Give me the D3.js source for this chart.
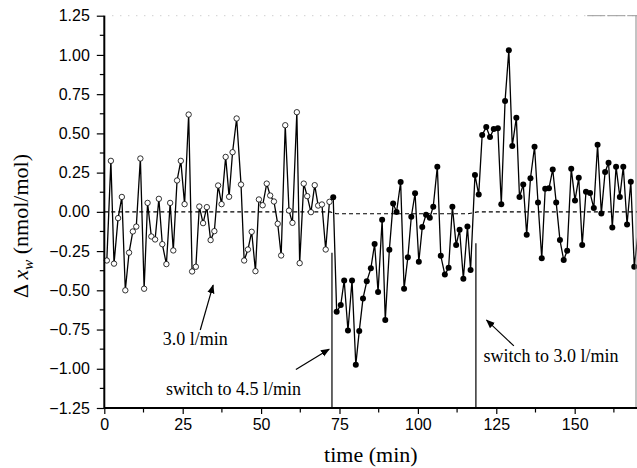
<!DOCTYPE html>
<html>
<head>
<meta charset="utf-8">
<script src="https://cdn.jsdelivr.net/npm/d3@7"></script>
<style>
  body { margin: 0; background: #fff; }
  svg { display: block; }
</style>
</head>
<body>
<svg id="chart" width="637" height="468"></svg>
<script>
// 3.0 l/min section (open circles)
const openTime = [0.8,2.1,3.1,4.4,5.6,6.7,7.9,9.1,10.2,11.5,12.7,13.8,15.0,16.2,17.4,18.5,19.8,21.0,22.0,23.2,
  24.4,25.6,26.9,28.0,29.2,30.3,31.5,32.7,33.9,35.1,36.3,37.4,38.7,39.8,40.9,42.2,43.6,44.6,45.8,47.0,
  48.2,49.3,50.5,51.8,52.9,54.1,55.3,56.4,57.7,58.9,60.0,61.4,62.3,63.6,64.7,65.9,67.1,68.2,69.4,70.6,71.8];
const openVal = [-0.31,0.325,-0.33,-0.04,0.095,-0.50,-0.26,-0.125,-0.094,0.34,-0.49,0.057,-0.157,-0.176,0.083,-0.206,-0.333,0.057,-0.246,0.20,
  0.325,0.049,0.62,-0.38,-0.35,0.034,-0.072,0.03,-0.18,-0.123,0.168,0.049,0.35,0.096,0.38,0.595,0.174,-0.31,-0.24,-0.127,
  -0.378,0.079,0.042,0.18,0.104,0.066,-0.076,-0.278,0.552,0.008,-0.07,0.635,-0.327,0.18,0.10,-0.002,0.17,0.04,0.047,-0.24,0.064];

// after switching (filled circles)
const fillTime = [73.0,74.1,75.4,76.5,77.7,79.0,80.2,81.3,82.5,83.7,85.0,86.2,87.3,88.6,89.6,90.9,92.1,93.2,94.5,95.6,
  96.8,97.9,99.1,100.3,101.4,102.6,103.8,104.9,106.2,107.3,108.6,109.8,111.0,112.2,113.3,114.5,115.8,116.8,118.2,119.4,
  120.5,121.8,123.0,124.2,125.5,126.6,127.8,129.0,130.1,131.4,132.4,133.6,134.7,135.9,137.2,138.3,139.5,140.6,141.8,143.0,
  144.1,145.3,146.5,147.6,148.9,150.1,151.3,152.4,153.6,154.9,156.1,157.3,158.5,159.7,160.8,162.0,163.2,164.4,165.5,166.7,
  167.9,169.0,171.0];
const fillVal = [0.093,-0.637,-0.594,-0.437,-0.756,-0.437,-0.975,-0.76,-0.552,-0.443,-0.36,-0.205,-0.51,-0.05,-0.69,-0.242,0.054,-0.001,0.19,-0.49,
  -0.29,-0.031,0.118,-0.318,-0.097,-0.018,-0.038,0.033,0.288,-0.28,-0.40,-0.357,0.033,-0.212,-0.114,-0.426,-0.094,-0.37,0.235,0.11,
  0.49,0.54,0.477,0.528,0.532,0.048,0.707,1.03,0.42,0.60,0.095,0.175,-0.146,0.214,0.415,0.06,-0.295,0.147,0.15,0.27,
  0.06,-0.18,-0.307,-0.248,0.275,0.073,0.217,-0.212,0.128,0.12,0.024,0.428,-0.01,0.254,0.313,-0.1,0.288,0.094,0.288,-0.08,
  0.192,-0.35,0.0];

// dashed baseline
const baseTime = [0, 72, 74, 116, 119, 170];
const baseVal = [0, 0, -0.012, -0.012, 0, 0];

// flow switches
const switchTime = [72.6, 118.5];
const switchTop = [-0.26, -0.2];

const xTicks = [0, 25, 50, 75, 100, 125, 150];
const yTicks = [-1.25, -1.00, -0.75, -0.50, -0.25, 0.00, 0.25, 0.50, 0.75, 1.00, 1.25];

const svg = d3.select("#chart");
const x = d3.scaleLinear().domain([0, 170]).range([104.3, 637.4]);
const y = d3.scaleLinear().domain([-1.25, 1.25]).range([408, 15.7]);

const openPts = openTime.map((t, i) => ({ t, v: openVal[i] }));
const fillPts = fillTime.map((t, i) => ({ t, v: fillVal[i] }));
const basePts = baseTime.map((t, i) => ({ t, v: baseVal[i] }));

const line = d3.line().x(d => x(d.t)).y(d => y(d.v));

// dashed zero line
svg.append("path")
  .datum(basePts)
  .attr("fill", "none")
  .attr("stroke", "#000")
  .attr("stroke-width", 1.1)
  .attr("stroke-dasharray", "4,3")
  .attr("d", line);

// switch markers
svg.selectAll(".switch")
  .data(switchTime)
  .enter()
  .append("line")
  .attr("class", "switch")
  .attr("x1", d => x(d)).attr("x2", d => x(d))
  .attr("y1", (d, i) => y(switchTop[i])).attr("y2", y(-1.25))
  .attr("stroke", "#000")
  .attr("stroke-width", 1.2);

// data line
svg.append("path")
  .datum(openPts.concat(fillPts))
  .attr("fill", "none")
  .attr("stroke", "#000")
  .attr("stroke-width", 1.3)
  .attr("d", line);

svg.selectAll(".open")
  .data(openPts)
  .enter()
  .append("circle")
  .attr("class", "open")
  .attr("cx", d => x(d.t))
  .attr("cy", d => y(d.v))
  .attr("r", 2.7)
  .attr("fill", "#fff")
  .attr("stroke", "#000")
  .attr("stroke-width", 0.8);

svg.selectAll(".filled")
  .data(fillPts)
  .enter()
  .append("circle")
  .attr("class", "filled")
  .attr("cx", d => x(d.t))
  .attr("cy", d => y(d.v))
  .attr("r", 3)
  .attr("fill", "#000");

// frame: faint top and right
svg.append("line")
  .attr("x1", x(0)).attr("x2", x(170))
  .attr("y1", y(1.25)).attr("y2", y(1.25))
  .attr("stroke", "#bbb")
  .attr("stroke-width", 1)
  .attr("stroke-dasharray", "1,7");
svg.append("line")
  .attr("x1", x(154)).attr("x2", x(170))
  .attr("y1", y(1.25)).attr("y2", y(1.25))
  .attr("stroke", "#999")
  .attr("stroke-width", 1)
  .attr("stroke-dasharray", "18,2");
svg.append("line")
  .attr("x1", 636).attr("x2", 636)
  .attr("y1", y(1.25)).attr("y2", y(-1.25))
  .attr("stroke", "#888")
  .attr("stroke-width", 1);

// axes
const tickFont = "'Liberation Sans', Arial, sans-serif";

const yAxis = svg.append("g")
  .attr("transform", `translate(${x(0)},0)`)
  .call(d3.axisLeft(y).tickValues(yTicks).tickFormat(d3.format(".2f")).tickSize(7.5).tickPadding(7));
yAxis.append("g").selectAll("line")
  .data(d3.range(-1.125, 1.25, 0.25))
  .enter().append("line")
  .attr("x1", -4.5).attr("x2", 0)
  .attr("y1", d => y(d)).attr("y2", d => y(d))
  .attr("stroke", "#000").attr("stroke-width", 1.2);

const xAxis = svg.append("g")
  .attr("transform", `translate(0,${y(-1.25)})`)
  .call(d3.axisBottom(x).tickValues(xTicks).tickFormat(d3.format("d")).tickSize(6).tickPadding(5));
xAxis.append("g").selectAll("line")
  .data(d3.range(12.5, 170, 25))
  .enter().append("line")
  .attr("x1", d => x(d)).attr("x2", d => x(d))
  .attr("y1", 0).attr("y2", 4.5)
  .attr("stroke", "#000").attr("stroke-width", 1.2);

[yAxis, xAxis].forEach(g => {
  g.select(".domain").attr("stroke", "#000").attr("stroke-width", 2);
  g.selectAll(".tick line").attr("stroke", "#000").attr("stroke-width", 1.2);
  g.selectAll(".tick text")
    .attr("fill", "#000")
    .style("font-family", tickFont)
    .style("font-size", "16px");
});
xAxis.select(".domain").attr("d", `M${x(0)},0H${x(170)}`);
yAxis.select(".domain").attr("d", `M0,${y(-1.25)}V${y(1.25)}`);

// axis titles
const serif = "'Liberation Serif', 'Times New Roman', serif";

svg.append("text")
  .attr("x", x(85))
  .attr("y", 462)
  .attr("text-anchor", "middle")
  .style("font-family", serif)
  .style("font-size", "22px")
  .text("time (min)");

const yTitle = svg.append("text")
  .attr("transform", `translate(28,226) rotate(-90)`)
  .attr("text-anchor", "middle")
  .style("font-family", serif)
  .style("font-size", "22px");
yTitle.append("tspan").text("Δ ");
yTitle.append("tspan").style("font-style", "italic").text("x");
yTitle.append("tspan").style("font-style", "italic").style("font-size", "15px").attr("dy", 5).text("w");
yTitle.append("tspan").attr("dy", -5).text(" (nmol/mol)");

// annotations
const notes = [
  { text: "3.0 l/min", t: 18.6, v: -0.85, from: [30.6, -0.753], to: [34.7, -0.467] },
  { text: "switch to 4.5 l/min", t: 19.7, v: -1.168, from: [61.1, -1.004], to: [71.7, -0.875] },
  { text: "switch to 3.0 l/min", t: 120.9, v: -0.956, from: [130.6, -0.854], to: [121.9, -0.69] }
];

svg.append("defs").append("marker")
  .attr("id", "arrow")
  .attr("viewBox", "0 0 10 10")
  .attr("refX", 9).attr("refY", 5)
  .attr("markerWidth", 9).attr("markerHeight", 9)
  .attr("markerUnits", "userSpaceOnUse")
  .attr("orient", "auto")
  .append("path")
  .attr("d", "M0,1L10,5L0,9Z")
  .attr("fill", "#000");

svg.selectAll(".note")
  .data(notes)
  .enter()
  .append("text")
  .attr("class", "note")
  .attr("x", d => x(d.t))
  .attr("y", d => y(d.v))
  .style("font-family", serif)
  .style("font-size", "18px")
  .text(d => d.text);

svg.selectAll(".arrow")
  .data(notes)
  .enter()
  .append("line")
  .attr("class", "arrow")
  .attr("x1", d => x(d.from[0])).attr("y1", d => y(d.from[1]))
  .attr("x2", d => x(d.to[0])).attr("y2", d => y(d.to[1]))
  .attr("stroke", "#000")
  .attr("stroke-width", 1.2)
  .attr("marker-end", "url(#arrow)");
</script>
</body>
</html>
